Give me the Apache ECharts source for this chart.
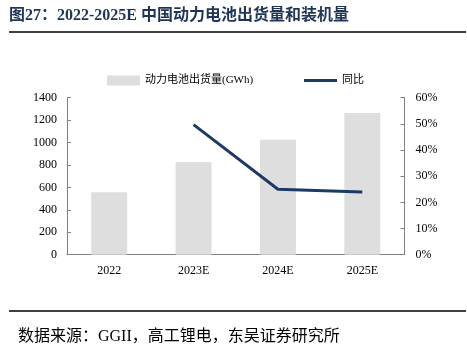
<!DOCTYPE html>
<html><head><meta charset="utf-8">
<script src="https://cdn.jsdelivr.net/npm/echarts@6/dist/echarts.min.js"></script>
<style>html,body{margin:0;padding:0;background:#fff}#c{width:467px;height:352px}</style>
</head><body><div id="c"></div>
<script>
const categories = ['2022', '2023E', '2024E', '2025E'];
const shipments = [556, 826, 1025, 1264];
const yoy = [null, 49.7, 25.0, 24.0];
const leftTicks = [0, 1400, 200];
const rightTicks = [0, 60, 10];
const barName = '动力电池出货量(GWh)';
const lineName = '同比';

const serif = '"Liberation Serif", "Noto Sans CJK SC", serif';
const chart = echarts.init(document.getElementById('c'), null, {renderer: 'canvas'});
chart.setOption({
  animation: false,
  backgroundColor: '#fff',
  graphic: [
    {type: 'text', left: 9, top: 8, style: {text: '图27：2022-2025E 中国动力电池出货量和装机量', font: 'bold 16px "Liberation Serif", "Noto Sans CJK SC", serif', fill: '#1F3556'}},
    {type: 'line', shape: {x1: 9, y1: 32, x2: 466, y2: 32}, style: {stroke: '#000', lineWidth: 1.5}},
    {type: 'line', shape: {x1: 9, y1: 311, x2: 466, y2: 311}, style: {stroke: '#000', lineWidth: 1.5}},
    {type: 'text', left: 18, top: 329, style: {text: '数据来源：GGII，高工锂电，东吴证券研究所', font: '16px "Liberation Serif", "Noto Sans CJK SC", serif', fill: '#000'}}
  ],
  legend: [
    {data: [{name: barName, icon: 'rect'}], left: 102, top: 70, itemWidth: 33, itemHeight: 10,
     textStyle: {fontFamily: serif, fontSize: 11, color: '#000'}},
    {data: [{name: lineName, icon: 'path://M0,0 L33,0 L33,3 L0,3 Z'}], left: 299, top: 70, itemWidth: 33, itemHeight: 10,
     textStyle: {fontFamily: serif, fontSize: 11, color: '#000'}}
  ],
  grid: {left: 67, right: 62.5, top: 97.7, bottom: 97.3, containLabel: false},
  xAxis: {
    type: 'category', data: categories,
    axisLine: {lineStyle: {color: '#808080', width: 1}},
    axisTick: {inside: true, length: 4, lineStyle: {color: '#808080'}},
    axisLabel: {fontFamily: serif, fontSize: 12, color: '#000', margin: 10}
  },
  yAxis: [
    {type: 'value', min: leftTicks[0], max: leftTicks[1], interval: leftTicks[2],
     splitLine: {show: false},
     axisLine: {show: true, lineStyle: {color: '#808080'}},
     axisTick: {show: true, inside: true, length: 4, lineStyle: {color: '#808080'}},
     axisLabel: {fontFamily: serif, fontSize: 12, color: '#000', margin: 10, formatter: v => String(v)}},
    {type: 'value', min: rightTicks[0], max: rightTicks[1], interval: rightTicks[2], position: 'right',
     splitLine: {show: false},
     axisLine: {show: true, lineStyle: {color: '#808080'}},
     axisTick: {show: true, inside: true, length: 4, lineStyle: {color: '#808080'}},
     axisLabel: {fontFamily: serif, fontSize: 12, color: '#000', margin: 11, formatter: '{value}%'}}
  ],
  series: [
    {name: barName, type: 'bar', data: shipments, barWidth: 36, yAxisIndex: 0,
     itemStyle: {color: '#DEDEDE', borderRadius: 1}},
    {name: lineName, type: 'line', data: yoy, yAxisIndex: 1, symbol: 'none',
     lineStyle: {color: '#1B3A66', width: 3}, itemStyle: {color: '#1B3A66'}}
  ]
});
</script></body></html>
